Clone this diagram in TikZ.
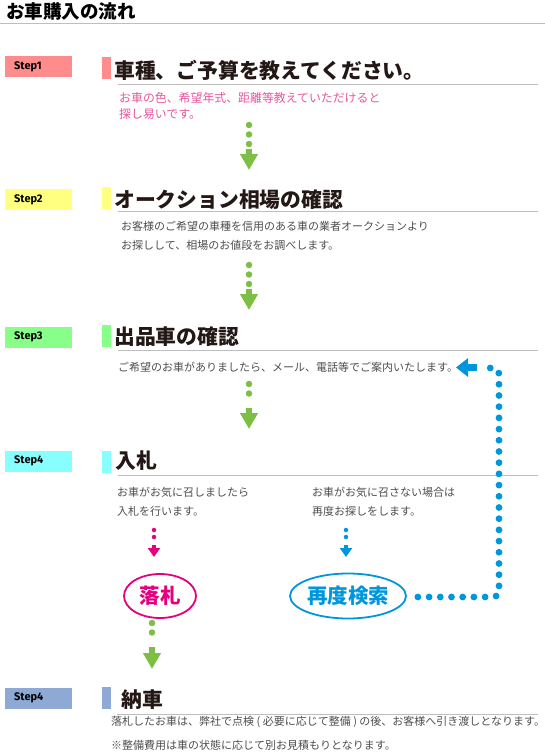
\documentclass[tikz,border=0pt]{standalone}
\usepackage{fontspec}
\newfontfamily\jp{Noto Sans CJK JP}
\newfontfamily\stepf{Fira Sans}
\usetikzlibrary{arrows.meta,shapes.geometric}
\definecolor{cred}{HTML}{FF8C8C}
\definecolor{cyel}{HTML}{FFFF80}
\definecolor{cgrn}{HTML}{88FF88}
\definecolor{ccyn}{HTML}{88FFFF}
\definecolor{cblu}{HTML}{8DA9D4}
\definecolor{garr}{HTML}{7DBE45}
\definecolor{pinkt}{HTML}{E8559F}
\definecolor{mag}{HTML}{E4007F}
\definecolor{sky}{HTML}{0096DC}
\definecolor{graytxt}{HTML}{4D4D4D}
\definecolor{headc}{HTML}{231815}
\definecolor{ulc}{HTML}{BEBEBE}
\tikzset{
  stepbox/.style={anchor=north west,inner sep=0pt,minimum width=58pt,minimum height=21pt,
    text width=49pt,inner xsep=9pt,align=left,font=\stepf\bfseries\fontsize{11}{12}\selectfont,text=black},
  barbox/.style={anchor=north west,inner sep=0pt,minimum width=9pt,minimum height=22pt},
  head/.style={anchor=base west,inner sep=0pt,font=\jp\bfseries\fontsize{20.8}{21}\selectfont,text=headc},
  body/.style={anchor=base west,inner sep=0pt,font=\jp\fontsize{11}{12}\selectfont,text=graytxt},
  uline/.style={draw=ulc,line width=0.9pt},
  gdots/.style={draw=garr,line width=6.5pt,line cap=round,dash pattern=on 0pt off 9.5pt},
  garrow/.style={draw=garr,line width=6pt,-{Triangle[width=17pt,length=16pt]}},
  pdots/.style={line width=4.5pt,line cap=round,dash pattern=on 0pt off 7pt},
  parrow/.style={line width=4pt,-{Triangle[width=12pt,length=9pt]}},
  oval/.style={ellipse,line width=1.8pt,inner sep=0pt,font=\jp\bfseries\fontsize{20.5}{20}\selectfont}
}
\begin{document}
\begin{tikzpicture}[x=1pt,y=-1pt]
\useasboundingbox (0,0) rectangle (545,754);
% title
\node[anchor=base west,inner sep=0pt,font=\jp\bfseries\fontsize{18.5}{18}\selectfont] (title) at (6,19) {お車購入の流れ};
\draw[draw=ulc,line width=1pt] (0,23.5) -- (545,23.5);

% Step1
\node[stepbox,fill=cred] (s1) at (5,56) {Step1};
\node[barbox,fill=cred] (b1) at (102,57) {};
\node[head] (h1) at (114,79) {車種、ご予算を教えてください。};
\draw[uline] (118,84) -- (538,84);
\node[body,text=pinkt,font=\jp\fontsize{11.9}{12}\selectfont] (t1a) at (119,102.5) {お車の色、希望年式、距離等教えていただけると};
\node[body,text=pinkt,font=\jp\fontsize{11.9}{12}\selectfont] (t1b) at (119,118.5) {探し易いです。};
\coordinate (g1a) at (249,125);
\coordinate (g1b) at (249,144);
\coordinate (g1c) at (249,149);
\coordinate (g1d) at (249,170);
\draw[gdots] (g1a) -- (g1b);
\draw[garrow] (g1c) -- (g1d);

% Step2
\node[stepbox,fill=cyel] (s2) at (5,189) {Step2};
\node[barbox,fill=cyel] (b2) at (102,187) {};
\node[head] (h2) at (114,207) {オークション相場の確認};
\draw[uline] (118,211.5) -- (538,211.5);
\node[body] (t2a) at (121,230) {お客様のご希望の車種を信用のある車の業者オークションより};
\node[body] (t2b) at (121,249) {お探しして、相場のお値段をお調べします。};
\coordinate (g2a) at (249,265);
\coordinate (g2b) at (249,284);
\coordinate (g2c) at (249,289);
\coordinate (g2d) at (249,310);
\draw[gdots] (g2a) -- (g2b);
\draw[garrow] (g2c) -- (g2d);

% Step3
\node[stepbox,fill=cgrn] (s3) at (5,326.5) {Step3};
\node[barbox,fill=cgrn] (b3) at (102,324.5) {};
\node[head] (h3) at (114,344) {出品車の確認};
\draw[uline] (118,350) -- (538,350);
\node[body] (t3) at (118,371) {ご希望のお車がありましたら、メール、電話等でご案内いたします。};
\coordinate (g3a) at (249,384);
\coordinate (g3b) at (249,403);
\coordinate (g3c) at (249,408);
\coordinate (g3d) at (249,429);
\draw[gdots] (g3a) -- (g3b);
\draw[garrow] (g3c) -- (g3d);

% Step4
\node[stepbox,fill=ccyn] (s4) at (5,450.5) {Step4};
\node[barbox,fill=ccyn] (b4) at (102,450.5) {};
\node[head] (h4) at (115,468) {入札};
\draw[uline] (118,475.5) -- (538,475.5);
\node[body] (t4a) at (117,496) {お車がお気に召しましたら};
\node[body] (t4b) at (117,515) {入札を行います。};
\node[body] (t4c) at (312,496) {お車がお気に召さない場合は};
\node[body] (t4d) at (312,515) {再度お探しをします。};
\coordinate (p1a) at (154,530);
\coordinate (p1b) at (154,544);
\coordinate (p1c) at (154,545);
\coordinate (p1d) at (154,557);
\draw[pdots,draw=mag] (p1a) -- (p1b);
\draw[parrow,draw=mag] (p1c) -- (p1d);
\coordinate (q1a) at (346,530);
\coordinate (q1b) at (346,544);
\coordinate (q1c) at (346,545);
\coordinate (q1d) at (346,557);
\draw[pdots,draw=sky] (q1a) -- (q1b);
\draw[parrow,draw=sky] (q1c) -- (q1d);

\node[oval,draw=mag,text=mag,minimum width=72pt,minimum height=44pt] (rakusatsu) at (160,596) {落札};
\node[oval,draw=sky,text=sky,minimum width=112pt,minimum height=45pt] (kensaku) at (348,596) {再度検索};

% blue return path
\coordinate (r0) at ([xshift=11pt]kensaku.east);
\coordinate (r1) at (499,597);
\coordinate (r2) at (499,368);
\coordinate (r3) at (484,368);
\coordinate (r4) at (477,367.5);
\coordinate (r5) at (456,367.5);
\draw[draw=sky,line width=6.8pt,line cap=round,dash pattern=on 0pt off 11.2pt,rounded corners=6pt]
  (r0 |- r1) -- (r1) -- (r2) -- (r3);
\draw[draw=sky,line width=7pt,-{Triangle[width=18pt,length=12pt]}] (r4) -- (r5);

% arrow to step5
\coordinate (g4a) at (152,623);
\coordinate (g4b) at (152,642);
\coordinate (g4c) at (152,647);
\coordinate (g4d) at (152,669);
\draw[gdots] (g4a) -- (g4b);
\draw[garrow] (g4c) -- (g4d);

% Step5
\node[stepbox,fill=cblu] (s5) at (5,687.5) {Step4};
\node[barbox,fill=cblu] (b5) at (102,686.5) {};
\node[head] (h5) at (121,707) {納車};
\draw[uline] (117,714) -- (538,714);
\node[body] (t5a) at (111,725) {落札したお車は、弊社で点検 ( 必要に応じて整備 ) の後、お客様へ引き渡しとなります。};
\node[body] (t5b) at (111,749) {※整備費用は車の状態に応じて別お見積もりとなります。};
\end{tikzpicture}
\end{document}
